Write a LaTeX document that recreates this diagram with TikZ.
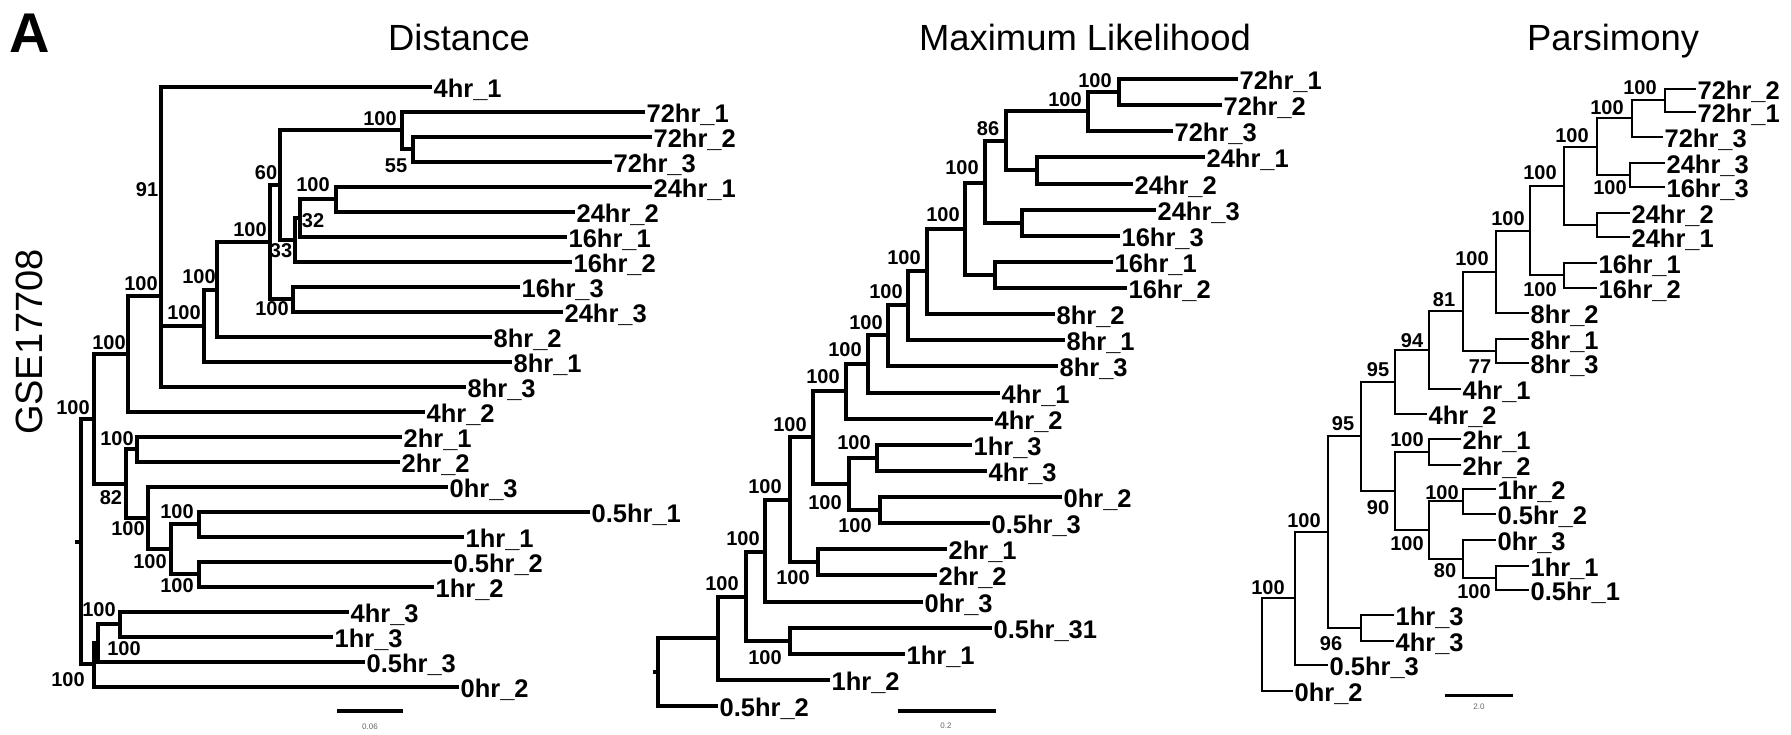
\documentclass[tikz,border=0pt]{standalone}
\usepackage{fontspec}
\setmainfont{Liberation Sans}
\usepackage{tikz}

\newcommand{\leaffont}{\fontsize{12.75}{14}\selectfont\bfseries}
\newcommand{\bootfont}{\fontsize{10}{11}\selectfont\bfseries}
\newcommand{\titlefont}{\fontsize{18.2}{20}\selectfont}

\begin{document}
\begin{tikzpicture}
    [x = 0.5pt, y = -0.5pt,
     leaf/.style = {anchor = west, inner sep = 0.6pt, font = \leaffont,
                    text height = 10pt, text depth = 0pt},
     boot/.style = {inner sep = 0pt, font = \bootfont},
     title/.style = {inner sep = 0pt, font = \titlefont,
                     text height = 13pt, text depth = 0pt},
     branch/.style = {line width = 1.8pt, to path = {|- (\tikztotarget)}},
     thinBranch/.style = {line width = 1.2pt, to path = {|- (\tikztotarget)}},
     scaleBar/.style = {line width = 2pt},
     scaleText/.style = {inner sep = 0pt, font = \fontsize{4}{5}\selectfont,
                         black!60}]

    \useasboundingbox (0,0) rectangle (1791,734);

    \node at (30,33)  [font = \fontsize{28}{30}\selectfont\bfseries, inner sep = 0pt] (panelA) {A};
    \node at (29,342) [rotate = 90, inner sep = 0pt, font = \fontsize{19}{21}\selectfont] (series) {GSE17708};

    \node at (459,37)  [title] (tDist) {Distance};
    \node at (1085,37) [title] (tML)   {Maximum Likelihood};
    \node at (1613,37) [title] (tPars) {Parsimony};

    % ---------- distance tree ----------
    \node at (432,87)  [leaf] (d4h1)  {4hr\_1};
    \node at (645,112) [leaf] (d72h1) {72hr\_1};
    \node at (652,137) [leaf] (d72h2) {72hr\_2};
    \node at (612,162) [leaf] (d72h3) {72hr\_3};
    \node at (652,187) [leaf] (d24h1) {24hr\_1};
    \node at (575,212) [leaf] (d24h2) {24hr\_2};
    \node at (567,237) [leaf] (d16h1) {16hr\_1};
    \node at (572,262) [leaf] (d16h2) {16hr\_2};
    \node at (520,287) [leaf] (d16h3) {16hr\_3};
    \node at (563,312) [leaf] (d24h3) {24hr\_3};
    \node at (492,337) [leaf] (d8h2)  {8hr\_2};
    \node at (512,362) [leaf] (d8h1)  {8hr\_1};
    \node at (466,387) [leaf] (d8h3)  {8hr\_3};
    \node at (425,412) [leaf] (d4h2)  {4hr\_2};
    \node at (402,437) [leaf] (d2h1)  {2hr\_1};
    \node at (400,462) [leaf] (d2h2)  {2hr\_2};
    \node at (448,487) [leaf] (d0h3)  {0hr\_3};
    \node at (590,512) [leaf] (d05h1) {0.5hr\_1};
    \node at (464,537) [leaf] (d1h1)  {1hr\_1};
    \node at (452,562) [leaf] (d05h2) {0.5hr\_2};
    \node at (434,587) [leaf] (d1h2)  {1hr\_2};
    \node at (349,612) [leaf] (d4h3)  {4hr\_3};
    \node at (333,637) [leaf] (d1h3)  {1hr\_3};
    \node at (365,662) [leaf] (d05h3) {0.5hr\_3};
    \node at (459,687) [leaf] (d0h2)  {0hr\_2};

    \coordinate (dStub) at (75,542);
    \coordinate (dRoot) at (81,542);
    \coordinate (dA) at (94,419);
    \coordinate (dB) at (128,354);
    \coordinate (dL) at (161,296);
    \coordinate (dM) at (204,326);
    \coordinate (dN) at (217,290);
    \coordinate (dO) at (270,242);
    \coordinate (dQ) at (280,185);
    \coordinate (dU) at (402,130);
    \coordinate (dV) at (413,149);
    \coordinate (dR) at (295,240);
    \coordinate (dS) at (300,218);
    \coordinate (dT) at (336,199);
    \coordinate (dP) at (293,299);
    \coordinate (dC) at (126,484);
    \coordinate (dD) at (137,449);
    \coordinate (dE) at (148,518);
    \coordinate (dF) at (171,549);
    \coordinate (dG) at (199,524);
    \coordinate (dH) at (199,574);
    \coordinate (dI) at (94,664);
    \coordinate (dJ) at (98,643);
    \coordinate (dK) at (120,624);

    \node at (73,408)  [boot] (bdA) {100};
    \node at (109,343) [boot] (bdB) {100};
    \node at (141,284) [boot] (bdL) {100};
    \node at (147,190) [boot] (bdL2) {91};
    \node at (184,313) [boot] (bdM) {100};
    \node at (199,277) [boot] (bdN) {100};
    \node at (250,230) [boot] (bdO) {100};
    \node at (266,173) [boot] (bdQ) {60};
    \node at (281,251) [boot] (bdR) {33};
    \node at (313,221) [boot] (bdS) {32};
    \node at (313,185) [boot] (bdT) {100};
    \node at (380,119) [boot] (bdU) {100};
    \node at (396,166) [boot] (bdV) {55};
    \node at (272,309) [boot] (bdP) {100};
    \node at (111,498) [boot] (bdC) {82};
    \node at (117,439) [boot] (bdD) {100};
    \node at (128,529) [boot] (bdE) {100};
    \node at (150,562) [boot] (bdF) {100};
    \node at (177,512) [boot] (bdG) {100};
    \node at (177,586) [boot] (bdH) {100};
    \node at (68,680)  [boot] (bdI) {100};
    \node at (124,649) [boot] (bdJ) {100};
    \node at (99,610)  [boot] (bdK) {100};

    \draw [line width = 1.8pt] (dStub) -- (dRoot);
    \path [every edge/.append style = {branch}]
      (dRoot) edge (dA)
      (dRoot) edge (dI)
      (dA) edge (dB)
      (dA) edge (dC)
      (dB) edge (dL)
      (dB) edge (d4h2.west)
      (dL) edge (d4h1.west)
      (dL) edge (dM)
      (dL) edge (d8h3.west)
      (dM) edge (dN)
      (dM) edge (d8h1.west)
      (dN) edge (dO)
      (dN) edge (d8h2.west)
      (dO) edge (dQ)
      (dO) edge (dP)
      (dQ) edge (dU)
      (dQ) edge (dR)
      (dU) edge (d72h1.west)
      (dU) edge (dV)
      (dV) edge (d72h2.west)
      (dV) edge (d72h3.west)
      (dR) edge (dS)
      (dR) edge (d16h2.west)
      (dS) edge (dT)
      (dS) edge (d16h1.west)
      (dT) edge (d24h1.west)
      (dT) edge (d24h2.west)
      (dP) edge (d16h3.west)
      (dP) edge (d24h3.west)
      (dC) edge (dD)
      (dC) edge (dE)
      (dD) edge (d2h1.west)
      (dD) edge (d2h2.west)
      (dE) edge (d0h3.west)
      (dE) edge (dF)
      (dF) edge (dG)
      (dF) edge (dH)
      (dG) edge (d05h1.west)
      (dG) edge (d1h1.west)
      (dH) edge (d05h2.west)
      (dH) edge (d1h2.west)
      (dI) edge (dJ)
      (dI) edge (d0h2.west)
      (dJ) edge (dK)
      (dJ) edge (d05h3.west)
      (dK) edge (d4h3.west)
      (dK) edge (d1h3.west);

    \coordinate (dBarL) at (337,711);
    \coordinate (dBarR) at (403,711);
    \draw [scaleBar] (dBarL) -- (dBarR);
    \node at (370,727) [scaleText] (dBarText) {0.06};

    % ---------- maximum likelihood tree ----------
    \node at (1238,79)  [leaf] (m72h1)  {72hr\_1};
    \node at (1222,105) [leaf] (m72h2)  {72hr\_2};
    \node at (1173,131) [leaf] (m72h3)  {72hr\_3};
    \node at (1205,157) [leaf] (m24h1)  {24hr\_1};
    \node at (1133,184) [leaf] (m24h2)  {24hr\_2};
    \node at (1156,210) [leaf] (m24h3)  {24hr\_3};
    \node at (1120,236) [leaf] (m16h3)  {16hr\_3};
    \node at (1113,262) [leaf] (m16h1)  {16hr\_1};
    \node at (1127,288) [leaf] (m16h2)  {16hr\_2};
    \node at (1055,314) [leaf] (m8h2)   {8hr\_2};
    \node at (1065,340) [leaf] (m8h1)   {8hr\_1};
    \node at (1058,366) [leaf] (m8h3)   {8hr\_3};
    \node at (1000,393) [leaf] (m4h1)   {4hr\_1};
    \node at (993,419)  [leaf] (m4h2)   {4hr\_2};
    \node at (972,445)  [leaf] (m1h3)   {1hr\_3};
    \node at (987,471)  [leaf] (m4h3)   {4hr\_3};
    \node at (1062,497) [leaf] (m0h2)   {0hr\_2};
    \node at (990,523)  [leaf] (m05h3)  {0.5hr\_3};
    \node at (947,549)  [leaf] (m2h1)   {2hr\_1};
    \node at (937,575)  [leaf] (m2h2)   {2hr\_2};
    \node at (923,602)  [leaf] (m0h3)   {0hr\_3};
    \node at (992,628)  [leaf] (m05h31) {0.5hr\_31};
    \node at (905,654)  [leaf] (m1h1)   {1hr\_1};
    \node at (830,680)  [leaf] (m1h2)   {1hr\_2};
    \node at (718,706)  [leaf] (m05h2)  {0.5hr\_2};

    \coordinate (mStub) at (653,672);
    \coordinate (mRoot) at (658,672);
    \coordinate (mA) at (718,638);
    \coordinate (mB) at (746,597);
    \coordinate (mC) at (765,552);
    \coordinate (mD) at (790,641);
    \coordinate (mE) at (790,500);
    \coordinate (mF) at (813,437);
    \coordinate (mG) at (818,562);
    \coordinate (mH) at (846,391);
    \coordinate (mI) at (849,484);
    \coordinate (mJ) at (877,458);
    \coordinate (mK) at (880,510);
    \coordinate (mL) at (868,364);
    \coordinate (mM) at (888,335);
    \coordinate (mN) at (908,305);
    \coordinate (mO) at (927,271);
    \coordinate (mP) at (965,229);
    \coordinate (mQ) at (985,183);
    \coordinate (mR) at (1006,141);
    \coordinate (mS) at (995,275);
    \coordinate (mT) at (1022,223);
    \coordinate (mU) at (1088,111);
    \coordinate (mV) at (1037,170);
    \coordinate (mW) at (1119,92);

    \node at (722,584)  [boot] (bmB) {100};
    \node at (743,539)  [boot] (bmC) {100};
    \node at (765,658)  [boot] (bmD) {100};
    \node at (765,487)  [boot] (bmE) {100};
    \node at (790,425)  [boot] (bmF) {100};
    \node at (793,578)  [boot] (bmG) {100};
    \node at (823,377)  [boot] (bmH) {100};
    \node at (825,503)  [boot] (bmI) {100};
    \node at (854,443)  [boot] (bmJ) {100};
    \node at (855,526)  [boot] (bmK) {100};
    \node at (845,350)  [boot] (bmL) {100};
    \node at (866,323)  [boot] (bmM) {100};
    \node at (886,292)  [boot] (bmN) {100};
    \node at (904,258)  [boot] (bmO) {100};
    \node at (943,215)  [boot] (bmP) {100};
    \node at (962,168)  [boot] (bmQ) {100};
    \node at (988,129)  [boot] (bmR) {86};
    \node at (1065,100) [boot] (bmU) {100};
    \node at (1095,81)  [boot] (bmW) {100};

    \draw [line width = 1.8pt] (mStub) -- (mRoot);
    \path [every edge/.append style = {branch}]
      (mRoot) edge (mA)
      (mRoot) edge (m05h2.west)
      (mA) edge (mB)
      (mA) edge (m1h2.west)
      (mB) edge (mC)
      (mB) edge (mD)
      (mD) edge (m05h31.west)
      (mD) edge (m1h1.west)
      (mC) edge (mE)
      (mC) edge (m0h3.west)
      (mE) edge (mF)
      (mE) edge (mG)
      (mG) edge (m2h1.west)
      (mG) edge (m2h2.west)
      (mF) edge (mH)
      (mF) edge (mI)
      (mI) edge (mJ)
      (mI) edge (mK)
      (mJ) edge (m1h3.west)
      (mJ) edge (m4h3.west)
      (mK) edge (m0h2.west)
      (mK) edge (m05h3.west)
      (mH) edge (mL)
      (mH) edge (m4h2.west)
      (mL) edge (mM)
      (mL) edge (m4h1.west)
      (mM) edge (mN)
      (mM) edge (m8h3.west)
      (mN) edge (mO)
      (mN) edge (m8h1.west)
      (mO) edge (mP)
      (mO) edge (m8h2.west)
      (mP) edge (mQ)
      (mP) edge (mS)
      (mS) edge (m16h1.west)
      (mS) edge (m16h2.west)
      (mQ) edge (mR)
      (mQ) edge (mT)
      (mT) edge (m24h3.west)
      (mT) edge (m16h3.west)
      (mR) edge (mU)
      (mR) edge (mV)
      (mV) edge (m24h1.west)
      (mV) edge (m24h2.west)
      (mU) edge (mW)
      (mU) edge (m72h3.west)
      (mW) edge (m72h1.west)
      (mW) edge (m72h2.west);

    \coordinate (mBarL) at (898,711);
    \coordinate (mBarR) at (996,711);
    \draw [scaleBar] (mBarL) -- (mBarR);
    \node at (946,726) [scaleText] (mBarText) {0.2};

    % ---------- parsimony tree ----------
    \node at (1696,89)  [leaf] (p72h2) {72hr\_2};
    \node at (1696,112) [leaf] (p72h1) {72hr\_1};
    \node at (1663,137) [leaf] (p72h3) {72hr\_3};
    \node at (1665,163) [leaf] (p24h3) {24hr\_3};
    \node at (1665,187) [leaf] (p16h3) {16hr\_3};
    \node at (1630,213) [leaf] (p24h2) {24hr\_2};
    \node at (1630,237) [leaf] (p24h1) {24hr\_1};
    \node at (1597,263) [leaf] (p16h1) {16hr\_1};
    \node at (1597,288) [leaf] (p16h2) {16hr\_2};
    \node at (1529,313) [leaf] (p8h2)  {8hr\_2};
    \node at (1529,339) [leaf] (p8h1)  {8hr\_1};
    \node at (1529,363) [leaf] (p8h3)  {8hr\_3};
    \node at (1461,389) [leaf] (p4h1)  {4hr\_1};
    \node at (1427,414) [leaf] (p4h2)  {4hr\_2};
    \node at (1461,439) [leaf] (p2h1)  {2hr\_1};
    \node at (1461,465) [leaf] (p2h2)  {2hr\_2};
    \node at (1496,489) [leaf] (p1h2)  {1hr\_2};
    \node at (1496,514) [leaf] (p05h2) {0.5hr\_2};
    \node at (1496,540) [leaf] (p0h3)  {0hr\_3};
    \node at (1529,566) [leaf] (p1h1)  {1hr\_1};
    \node at (1529,590) [leaf] (p05h1) {0.5hr\_1};
    \node at (1394,615) [leaf] (p1h3)  {1hr\_3};
    \node at (1394,641) [leaf] (p4h3)  {4hr\_3};
    \node at (1328,665) [leaf] (p05h3) {0.5hr\_3};
    \node at (1293,691) [leaf] (p0h2)  {0hr\_2};

    \coordinate (pRoot) at (1262,645);
    \coordinate (pA) at (1665,100);
    \coordinate (pB) at (1632,118);
    \coordinate (pC) at (1597,147);
    \coordinate (pD) at (1630,175);
    \coordinate (pE) at (1564,186);
    \coordinate (pF) at (1597,225);
    \coordinate (pG) at (1530,231);
    \coordinate (pH) at (1564,275);
    \coordinate (pI) at (1496,272);
    \coordinate (pJ) at (1463,311);
    \coordinate (pK) at (1496,351);
    \coordinate (pL) at (1429,350);
    \coordinate (pM) at (1395,382);
    \coordinate (pN) at (1361,436);
    \coordinate (pO) at (1395,491);
    \coordinate (pP) at (1429,452);
    \coordinate (pQ) at (1429,530);
    \coordinate (pR) at (1463,501);
    \coordinate (pS) at (1463,559);
    \coordinate (pT) at (1496,578);
    \coordinate (pU) at (1328,532);
    \coordinate (pV) at (1361,628);
    \coordinate (pW) at (1295,598);

    \node at (1640,88)  [boot] (bpA) {100};
    \node at (1607,108) [boot] (bpB) {100};
    \node at (1572,136) [boot] (bpC) {100};
    \node at (1610,188) [boot] (bpD) {100};
    \node at (1540,173) [boot] (bpE) {100};
    \node at (1508,219) [boot] (bpG) {100};
    \node at (1540,290) [boot] (bpH) {100};
    \node at (1472,259) [boot] (bpI) {100};
    \node at (1444,300) [boot] (bpJ) {81};
    \node at (1480,367) [boot] (bpK) {77};
    \node at (1412,341) [boot] (bpL) {94};
    \node at (1378,370) [boot] (bpM) {95};
    \node at (1343,424) [boot] (bpN) {95};
    \node at (1378,508) [boot] (bpO) {90};
    \node at (1407,440) [boot] (bpP) {100};
    \node at (1407,544) [boot] (bpQ) {100};
    \node at (1442,493) [boot] (bpR) {100};
    \node at (1445,571) [boot] (bpS) {80};
    \node at (1474,592) [boot] (bpT) {100};
    \node at (1304,521) [boot] (bpU) {100};
    \node at (1331,644) [boot] (bpV) {96};
    \node at (1268,588) [boot] (bpW) {100};

    \path [every edge/.append style = {thinBranch}]
      (pRoot) edge (pW)
      (pRoot) edge (p0h2.west)
      (pW) edge (pU)
      (pW) edge (p05h3.west)
      (pU) edge (pN)
      (pU) edge (pV)
      (pV) edge (p1h3.west)
      (pV) edge (p4h3.west)
      (pN) edge (pM)
      (pN) edge (pO)
      (pM) edge (pL)
      (pM) edge (p4h2.west)
      (pL) edge (pJ)
      (pL) edge (p4h1.west)
      (pJ) edge (pI)
      (pJ) edge (pK)
      (pK) edge (p8h1.west)
      (pK) edge (p8h3.west)
      (pI) edge (pG)
      (pI) edge (p8h2.west)
      (pG) edge (pE)
      (pG) edge (pH)
      (pH) edge (p16h1.west)
      (pH) edge (p16h2.west)
      (pE) edge (pC)
      (pE) edge (pF)
      (pF) edge (p24h2.west)
      (pF) edge (p24h1.west)
      (pC) edge (pB)
      (pC) edge (pD)
      (pD) edge (p24h3.west)
      (pD) edge (p16h3.west)
      (pB) edge (pA)
      (pB) edge (p72h3.west)
      (pA) edge (p72h2.west)
      (pA) edge (p72h1.west)
      (pO) edge (pP)
      (pO) edge (pQ)
      (pP) edge (p2h1.west)
      (pP) edge (p2h2.west)
      (pQ) edge (pR)
      (pQ) edge (pS)
      (pR) edge (p1h2.west)
      (pR) edge (p05h2.west)
      (pS) edge (p0h3.west)
      (pS) edge (pT)
      (pT) edge (p1h1.west)
      (pT) edge (p05h1.west);

    \coordinate (pBarL) at (1445,695);
    \coordinate (pBarR) at (1513,695);
    \draw [scaleBar, line width = 1.5pt] (pBarL) -- (pBarR);
    \node at (1479,707) [scaleText] (pBarText) {2.0};
\end{tikzpicture}
\end{document}
